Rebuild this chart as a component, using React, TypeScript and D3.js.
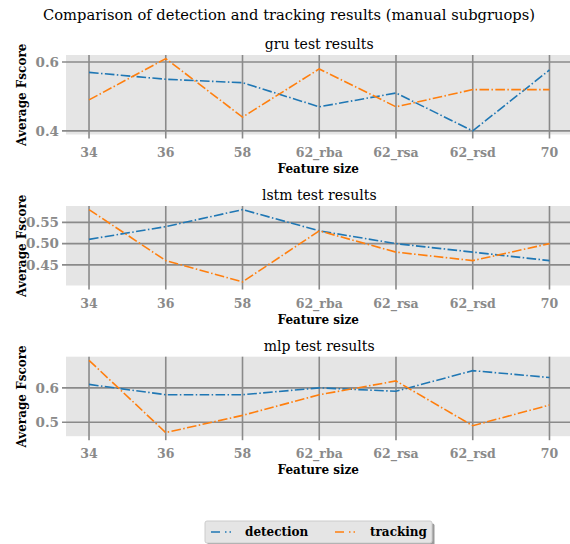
import React from "react";
import * as d3 from "d3";

const categories = ["34", "36", "58", "62_rba", "62_rsa", "62_rsd", "70"];
const panelTitles = ["gru test results", "lstm test results", "mlp test results"];
const gruDetection = [0.57, 0.55, 0.54, 0.47, 0.51, 0.40, 0.577];
const gruTracking = [0.49, 0.61, 0.44, 0.58, 0.47, 0.52, 0.52];
const lstmDetection = [0.51, 0.54, 0.58, 0.53, 0.50, 0.48, 0.46];
const lstmTracking = [0.58, 0.46, 0.41, 0.53, 0.48, 0.46, 0.50];
const mlpDetection = [0.61, 0.58, 0.58, 0.60, 0.59, 0.65, 0.63];
const mlpTracking = [0.68, 0.47, 0.52, 0.58, 0.62, 0.49, 0.55];
const gruTicks = [0.4, 0.6];
const lstmTicks = [0.45, 0.5, 0.55];
const mlpTicks = [0.5, 0.6];
const tickFormats = [".1f", ".2f", ".1f"];
const seriesNames = ["detection", "tracking"];

const panels = [
  { title: panelTitles[0], det: gruDetection, trk: gruTracking, ticks: gruTicks, fmt: tickFormats[0] },
  { title: panelTitles[1], det: lstmDetection, trk: lstmTracking, ticks: lstmTicks, fmt: tickFormats[1] },
  { title: panelTitles[2], det: mlpDetection, trk: mlpTracking, ticks: mlpTicks, fmt: tickFormats[2] },
];

const W = 570;
const H = 544;
const FONT = "'DejaVu Serif', serif";
const BLUE = "#1f77b4";
const ORANGE = "#ff7f0e";
const GRID = "#8a8a8a";
const TICKTXT = "#8a8a8a";
const DASH = "9.6,2.4,1.5,2.4";

const axLeft = 66;
const axRight = 572.5;
const axTops = [55, 206, 356.7];
const axH = 79.5;

function Panel({ p, top }: { p: typeof panels[number]; top: number }) {
  const n = categories.length;
  const x = d3
    .scaleLinear()
    .domain([-0.3, n - 1 + 0.3])
    .range([axLeft, axRight]);
  const all = [...p.det, ...p.trk];
  const lo = d3.min(all)!;
  const hi = d3.max(all)!;
  const m = (hi - lo) * 0.05;
  const y = d3
    .scaleLinear()
    .domain([lo - m, hi + m])
    .range([top + axH, top]);
  const line = d3
    .line<number>()
    .x((_, i) => x(i))
    .y((v) => y(v));
  const fmt = d3.format(p.fmt);
  const bottom = top + axH;
  return (
    <g>
      <text
        x={(axLeft + axRight) / 2}
        y={top - 6}
        textAnchor="middle"
        fontFamily={FONT}
        fontSize={14}
        fill="#000"
      >
        {p.title}
      </text>
      <rect x={axLeft} y={top} width={axRight - axLeft} height={axH} fill="#e5e5e5" />
      {categories.map((c, i) => (
        <g key={c}>
          <line x1={x(i)} x2={x(i)} y1={top} y2={bottom + 4} stroke={GRID} strokeWidth={1.6} />
          <text
            x={x(i)}
            y={bottom + 22}
            textAnchor="middle"
            fontFamily={FONT}
            fontWeight="bold"
            fontSize={12.5}
            fill={TICKTXT}
          >
            {c}
          </text>
        </g>
      ))}
      {p.ticks.map((t) => (
        <g key={t}>
          <line x1={axLeft - 4} x2={axRight} y1={y(t)} y2={y(t)} stroke={GRID} strokeWidth={1.6} />
          <text
            x={axLeft - 7}
            y={y(t)}
            dy="0.36em"
            textAnchor="end"
            fontFamily={FONT}
            fontWeight="bold"
            fontSize={13.5}
            fill={TICKTXT}
          >
            {fmt(t)}
          </text>
        </g>
      ))}
      <path d={line(p.det)!} fill="none" stroke={BLUE} strokeWidth={1.6} strokeDasharray={DASH} />
      <path d={line(p.trk)!} fill="none" stroke={ORANGE} strokeWidth={1.6} strokeDasharray={DASH} />
      <text
        x={(axLeft + axRight) / 2 - 1}
        y={bottom + 38}
        textAnchor="middle"
        fontFamily={FONT}
        fontWeight="bold"
        fontSize={12}
        fill="#000"
      >
        Feature size
      </text>
      <text
        transform={`translate(${22},${top + axH / 2}) rotate(-90)`}
        dy="0.36em"
        textAnchor="middle"
        fontFamily={FONT}
        fontWeight="bold"
        fontSize={12}
        fill="#000"
      >
        Average Fscore
      </text>
    </g>
  );
}

export default function App() {
  const lx = 205;
  const ly = 521;
  const lw = 227;
  const lh = 22;
  const colors = [BLUE, ORANGE];
  const handleX = [211, 335];
  const textX = [245, 370];
  return (
    <svg width={W} height={H} style={{ display: "block", position: "absolute", left: 0, top: 0 }}>
      <rect width={W} height={H} fill="#fff" />
      <text
        x={W / 2 + 4}
        y={20}
        textAnchor="middle"
        fontFamily={FONT}
        fontSize={14.7}
        fill="#000"
      >
        Comparison of detection and tracking results (manual subgruops)
      </text>
      {panels.map((p, i) => (
        <Panel key={p.title} p={p} top={axTops[i]} />
      ))}
      <rect x={lx + 2.5} y={ly + 2.5} width={lw} height={lh} fill="#9a9a9a" rx={2} />
      <rect x={lx} y={ly} width={lw} height={lh} fill="#e5e5e5" stroke="#cccccc" strokeWidth={1} rx={2} />
      {seriesNames.map((s, i) => (
        <g key={s}>
          <line
            x1={handleX[i]}
            x2={handleX[i] + 22}
            y1={ly + lh / 2}
            y2={ly + lh / 2}
            stroke={colors[i]}
            strokeWidth={1.6}
            strokeDasharray="9,5,1.5,3,1.5,3"
          />
          <text
            x={textX[i]}
            y={ly + lh / 2}
            dy="0.36em"
            fontFamily={FONT}
            fontWeight="bold"
            fontSize={12}
            fill="#000"
          >
            {s}
          </text>
        </g>
      ))}
    </svg>
  );
}
